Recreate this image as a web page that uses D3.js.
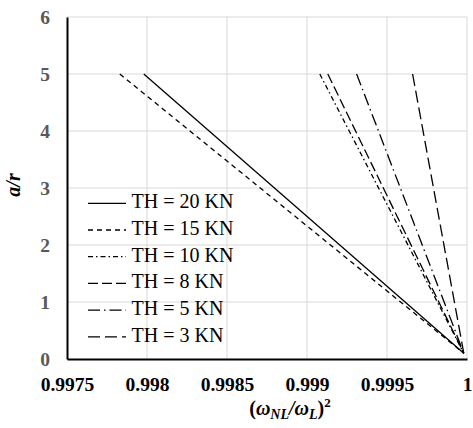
<!DOCTYPE html>
<html>
<head>
<meta charset="utf-8">
<script src="https://cdn.jsdelivr.net/npm/d3@7"></script>
<style>
  body { margin: 0; background: #fff; }
  svg { display: block; }
</style>
</head>
<body>
<div id="chart"></div>
<script>
// series, top of each line at a/r = 5 and the common low end
var seriesNames = ["TH = 20 KN", "TH = 15 KN", "TH = 10 KN", "TH = 8 KN", "TH = 5 KN", "TH = 3 KN"];
var freqAtTop = [0.99798, 0.99783, 0.99908, 0.99913, 0.99931, 0.99966];
var freqAtBottom = [0.99998, 0.99998, 0.99998, 0.99998, 0.99998, 0.99998];
var arTop = [5, 5, 5, 5, 5, 5];
var arBottom = [0.1, 0.1, 0.1, 0.1, 0.1, 0.1];
var dashes = ["none", "5,4", "5,3,1.5,3", "10,4", "12,4,1.5,4", "12,5"];

var xTicks = [0.9975, 0.998, 0.9985, 0.999, 0.9995, 1];
var yTicks = [0, 1, 2, 3, 4, 5, 6];

var serif = "'Liberation Serif', 'Times New Roman', serif";
var width = 473, height = 428;
var margin = {top: 17, right: 6, bottom: 69, left: 67};

var svg = d3.select("#chart").append("svg")
    .attr("width", width)
    .attr("height", height);

var x = d3.scaleLinear().domain([0.9975, 1]).range([margin.left, width - margin.right]);
var y = d3.scaleLinear().domain([0, 6]).range([height - margin.bottom, margin.top]);

// grid
svg.append("g")
    .selectAll("line")
    .data(yTicks.slice(1))
    .join("line")
    .attr("x1", margin.left).attr("x2", width - margin.right)
    .attr("y1", d => y(d)).attr("y2", d => y(d))
    .attr("stroke", "#d9d9d9").attr("stroke-width", 1);

svg.append("g")
    .selectAll("line")
    .data(xTicks.slice(1))
    .join("line")
    .attr("x1", d => x(d)).attr("x2", d => x(d))
    .attr("y1", margin.top).attr("y2", height - margin.bottom)
    .attr("stroke", "#d9d9d9").attr("stroke-width", 1);

// axes
var xAxis = svg.append("g")
    .attr("transform", "translate(0," + (height - margin.bottom) + ")")
    .call(d3.axisBottom(x).tickValues(xTicks).tickSize(0).tickPadding(18)
        .tickFormat(d => d === 1 ? "1" : String(+d.toFixed(4))));
xAxis.select(".domain").attr("stroke", "#000").attr("stroke-width", 2);
xAxis.selectAll("text")
    .style("font-family", serif)
    .style("font-size", "19.5px").style("font-weight", "bold").attr("fill", "#000");

var yAxis = svg.append("g")
    .attr("transform", "translate(" + margin.left + ",0)")
    .call(d3.axisLeft(y).tickValues(yTicks).tickSize(0).tickPadding(17).tickFormat(d3.format("d")));
yAxis.select(".domain").attr("stroke", "#000").attr("stroke-width", 2);
yAxis.selectAll("text")
    .style("font-family", serif)
    .style("font-size", "19.5px").style("font-weight", "bold").attr("fill", "#595959");

// lines
var line = d3.line().x(d => x(d[0])).y(d => y(d[1]));
seriesNames.forEach(function(name, i) {
    var pts = [[freqAtTop[i], arTop[i]], [freqAtBottom[i], arBottom[i]]];
    svg.append("path")
        .datum(pts)
        .attr("d", line)
        .attr("fill", "none")
        .attr("stroke", "#000")
        .attr("stroke-width", 1.3)
        .attr("stroke-dasharray", dashes[i]);
});

// legend
var legend = svg.append("g").attr("transform", "translate(88,203.3)");
seriesNames.forEach(function(name, i) {
    var g = legend.append("g").attr("transform", "translate(0," + (i * 26.7) + ")");
    g.append("line")
        .attr("x1", 0).attr("x2", 38).attr("y1", 0).attr("y2", 0)
        .attr("stroke", "#000").attr("stroke-width", 1.3)
        .attr("stroke-dasharray", dashes[i]);
    g.append("text")
        .attr("x", 43.5).attr("y", 5)
        .style("font-family", serif)
        .style("font-size", "20px")
        .attr("fill", "#000")
        .text(name);
});

// axis titles
var xt = svg.append("text")
    .attr("x", 290).attr("y", 415)
    .attr("text-anchor", "middle")
    .style("font-family", serif)
    .style("font-size", "20px").style("font-weight", "bold");
xt.append("tspan").text("(");
xt.append("tspan").style("font-style", "italic").text("ω");
xt.append("tspan").style("font-style", "italic").style("font-size", "14px").attr("dy", 4).text("NL");
xt.append("tspan").style("font-style", "italic").attr("dy", -4).text("/ω");
xt.append("tspan").style("font-style", "italic").style("font-size", "14px").attr("dy", 4).text("L");
xt.append("tspan").attr("dy", -4).text(")");
xt.append("tspan").style("font-size", "13px").attr("dy", -8).text("2");

svg.append("text")
    .attr("transform", "translate(20," + ((margin.top + height - margin.bottom) / 2 - 3) + ") rotate(-90)")
    .attr("text-anchor", "middle")
    .style("font-family", serif)
    .style("font-size", "20px").style("font-weight", "bold").style("font-style", "italic")
    .text("a/r");
</script>
</body>
</html>
